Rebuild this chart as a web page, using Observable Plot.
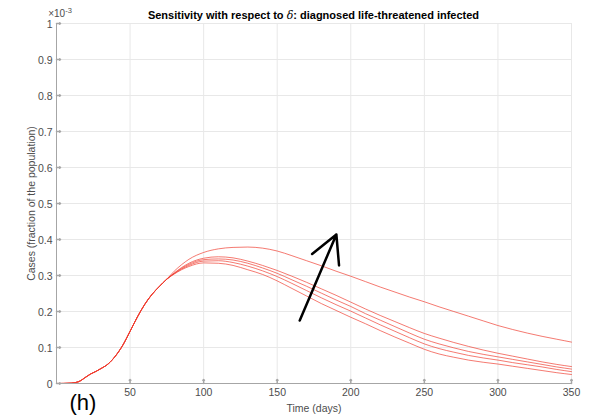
<!DOCTYPE html>
<html><head><meta charset="utf-8">
<script src="https://cdn.jsdelivr.net/npm/d3@7"></script>
<script src="https://cdn.jsdelivr.net/npm/@observablehq/plot@0.6"></script>
<style>body{margin:0;background:#fff} #chart{width:589px;height:417px}</style>
</head><body><div id="chart"></div>
<script>
// time (days)
const days = [0,5,10,15,20,23,27,30,35,40,45,50,55,60,65,70,75,
  80,85,90,100,110,120,130,140,150,160,170,180,190,200,210,220,230,240,250,260,270,280,290,300,310,320,330,340,350];
// common rising part (values in units of 1e-3), t = 0..75
const early = [0,0.0003,0.001,0.005,0.018,0.026,0.034,0.041,0.054,0.076,0.106,0.145,0.185,0.220,0.248,0.270,0.290];
// five sensitivity curves from t = 80 on
const curve1 = early.concat([0.312,0.330,0.345,0.364,0.374,0.378,0.379,0.376,0.368,0.355,0.341,0.327,0.312,0.298,0.283,0.268,0.254,0.240,0.227,0.213,0.200,0.187,0.174,0.161,0.150,0.140,0.131,0.123,0.115]);
const curve2 = early.concat([0.307,0.322,0.334,0.348,0.352,0.349,0.340,0.328,0.314,0.298,0.281,0.263,0.245,0.226,0.207,0.189,0.172,0.155,0.139,0.126,0.114,0.103,0.093,0.084,0.076,0.068,0.060,0.053,0.047]);
const curve3 = early.concat([0.306,0.320,0.331,0.344,0.346,0.343,0.334,0.321,0.306,0.288,0.270,0.251,0.232,0.214,0.194,0.176,0.158,0.140,0.123,0.110,0.099,0.089,0.081,0.074,0.067,0.060,0.053,0.046,0.040]);
const curve4 = early.concat([0.305,0.318,0.328,0.340,0.341,0.336,0.326,0.313,0.297,0.278,0.258,0.238,0.219,0.201,0.182,0.163,0.145,0.127,0.110,0.097,0.087,0.078,0.071,0.065,0.058,0.052,0.046,0.039,0.033]);
const curve5 = early.concat([0.304,0.316,0.325,0.335,0.334,0.328,0.316,0.303,0.285,0.264,0.243,0.222,0.203,0.184,0.166,0.147,0.129,0.112,0.095,0.082,0.073,0.065,0.059,0.054,0.048,0.042,0.036,0.030,0.025]);
const xTicks = [50,100,150,200,250,300,350];
const yTicks = [0,0.1,0.2,0.3,0.4,0.5,0.6,0.7,0.8,0.9,1];
const yTickLabels = ["0","0.1","0.2","0.3","0.4","0.5","0.6","0.7","0.8","0.9","1"];
// arrow annotation (data coordinates)
const arrowData = [{t1:165.3, v1:0.175, t2:190.2, v2:0.414}];

const rows = [curve1,curve2,curve3,curve4,curve5].flatMap((s,i)=> s.map((v,j)=>({t:days[j], v, k:i})));
const axisGray = "#a6a6a6";

const chart = Plot.plot({
  width:589, height:417, marginLeft:56, marginRight:18, marginTop:23, marginBottom:34,
  style:{fontFamily:'"Liberation Sans", Arial, sans-serif', fontSize:"10.5px", color:"#4d4d4d", background:"#fff", overflow:"visible"},
  x:{domain:[0,350]}, y:{domain:[0,1]},
  marks:[
    Plot.gridX(xTicks,{stroke:"#e8e8e8", strokeOpacity:1}),
    Plot.gridY(yTicks.filter(d=>d>0),{stroke:"#e8e8e8", strokeOpacity:1}),
    Plot.line(rows,{x:"t", y:"v", z:"k", stroke:"#ee3a2c", strokeWidth:0.8, strokeOpacity:0.85, curve:"monotone-x"}),
    Plot.ruleX([0],{stroke:axisGray}),
    Plot.ruleY([0],{stroke:axisGray}),
    Plot.vector(xTicks,{x:d=>d, y:0, length:4, rotate:0, anchor:"start", stroke:axisGray}),
    Plot.vector(yTicks,{x:0, y:d=>d, length:4, rotate:90, anchor:"start", stroke:axisGray}),
    Plot.axisX(xTicks,{tickSize:0, tickPadding:5, label:"Time (days)", labelAnchor:"center", labelArrow:"none", labelOffset:28, fill:"#4d4d4d"}),
    Plot.axisY(yTicks,{tickSize:0, tickPadding:4, dy:1, tickFormat:(d,i)=>yTickLabels[i], label:"Cases (fraction of the population)", labelAnchor:"center", labelArrow:"none", labelOffset:29, fill:"#4d4d4d"}),
    Plot.arrow(arrowData,{x1:"t1", y1:"v1", x2:"t2", y2:"v2", stroke:"#000", strokeWidth:2.5, headLength:24, headAngle:56})
  ]
});
document.getElementById("chart").appendChild(chart);

const svg = d3.select(chart);
const title = svg.append("text").attr("x",313.5).attr("y",18.5).attr("text-anchor","middle")
  .attr("font-weight","bold").attr("font-size","11px").attr("fill","#000");
title.append("tspan").text("Sensitivity with respect to ");
title.append("tspan").attr("font-style","italic").attr("font-family","'DejaVu Serif', serif").attr("font-weight","normal").text("δ");
title.append("tspan").text(": diagnosed life-threatened infected");

const exp = svg.append("text").attr("x",60).attr("y",16.5).attr("font-size","10px").attr("fill","#4d4d4d");
exp.append("tspan").text("×10");
exp.append("tspan").attr("dy",-4).attr("font-size","7.5px").text("-3");

svg.append("text").attr("x",83).attr("y",410).attr("text-anchor","middle").attr("font-size","22px")
  .attr("fill","#000").text("(h)");
</script>
</body></html>
